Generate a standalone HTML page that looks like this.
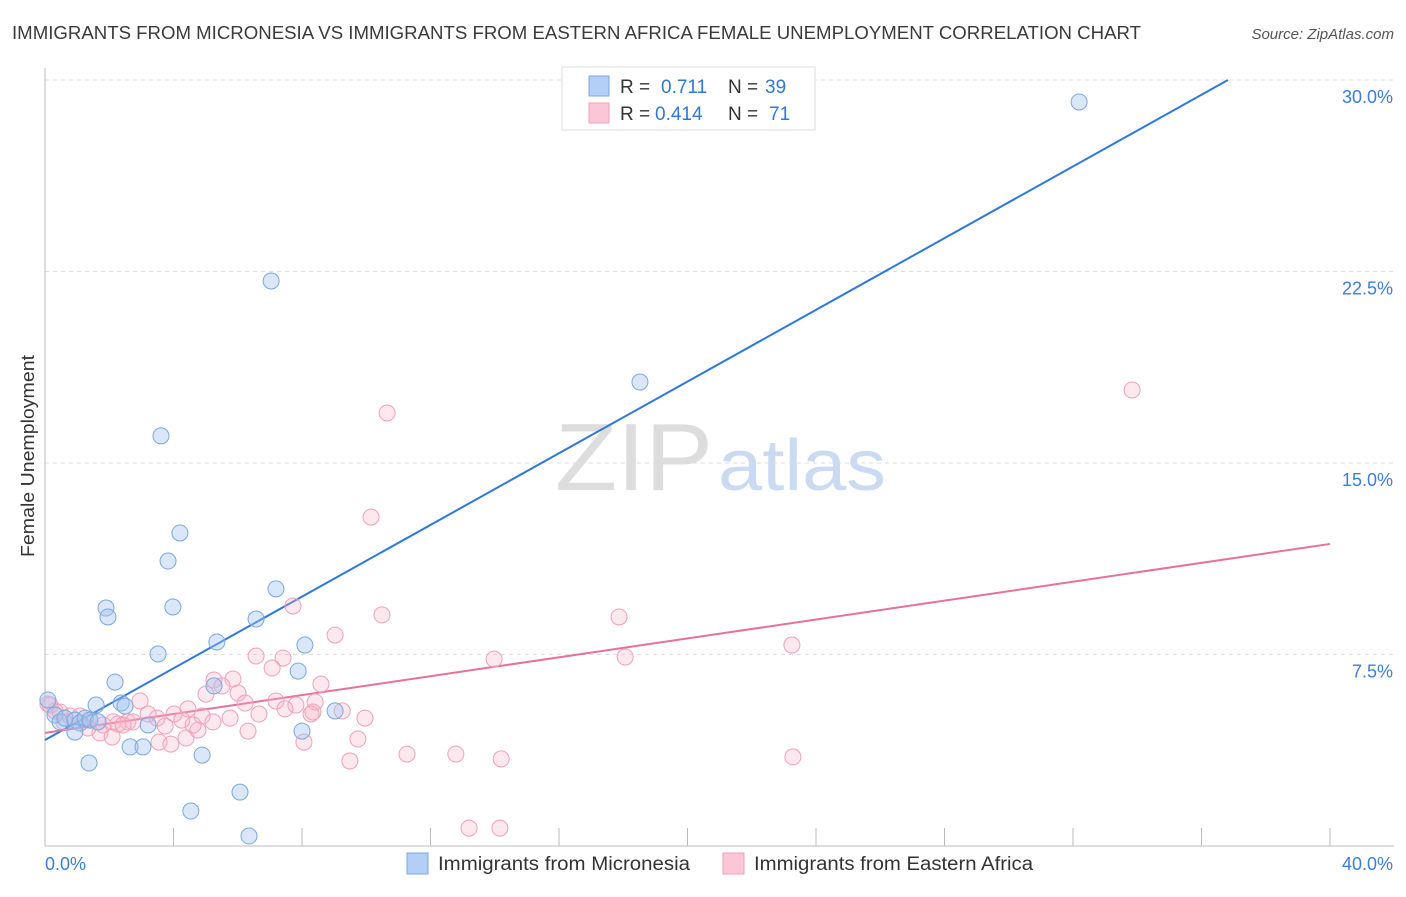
<!DOCTYPE html>
<html><head><meta charset="utf-8"><style>
body{margin:0;background:#fff;font-family:"Liberation Sans",sans-serif;}
svg text{font-family:"Liberation Sans",sans-serif;}
</style></head><body>
<svg id="chart" width="1406" height="892" xmlns="http://www.w3.org/2000/svg">
<text x="12" y="39" font-size="18" fill="#3a3a3a" textLength="1129" lengthAdjust="spacingAndGlyphs">IMMIGRANTS FROM MICRONESIA VS IMMIGRANTS FROM EASTERN AFRICA FEMALE UNEMPLOYMENT CORRELATION CHART</text>
<text x="1394" y="39" font-size="15" fill="#555" text-anchor="end" font-style="italic">Source: ZipAtlas.com</text>
<text x="555" y="490" font-size="96" fill="#ddd" font-family="Liberation Serif" textLength="158" lengthAdjust="spacingAndGlyphs">ZIP</text>
<text x="718" y="490" font-size="72" fill="#c9daf2" textLength="168" lengthAdjust="spacingAndGlyphs">atlas</text>
<g id="grid"></g><g id="axes"></g><g id="lines"></g><g id="pts"></g>
<text transform="translate(34,456) rotate(-90)" font-size="18" fill="#333" text-anchor="middle" textLength="202" lengthAdjust="spacingAndGlyphs">Female Unemployment</text>
<g>
<rect x="562" y="67" width="253" height="63" fill="#fff" stroke="#ddd"/>
<rect x="589" y="76" width="20" height="20" fill="#b3cff5" stroke="#7aa8e0"/>
<rect x="589" y="103" width="20" height="20" fill="#fbc6d6" stroke="#f0a0bb"/>
<text x="620" y="93" font-size="19" fill="#333">R = </text><text x="661" y="93" font-size="19" fill="#2f78d8">0.711</text>
<text x="728" y="93" font-size="19" fill="#333">N = </text><text x="765" y="93" font-size="19" fill="#2f78d8">39</text>
<text x="620" y="120" font-size="19" fill="#333">R = </text><text x="655" y="120" font-size="19" fill="#2f78d8">0.414</text>
<text x="728" y="120" font-size="19" fill="#333">N = </text><text x="769" y="120" font-size="19" fill="#2f78d8">71</text>
</g>
<g><rect x="407" y="853" width="21" height="21" fill="#b3cff5" stroke="#7aa8e0"/><text x="438" y="870" font-size="19" fill="#333" textLength="252" lengthAdjust="spacingAndGlyphs">Immigrants from Micronesia</text></g>
<g><rect x="723" y="853" width="21" height="21" fill="#fbc6d6" stroke="#f0a0bb"/><text x="754" y="870" font-size="19" fill="#333" textLength="279" lengthAdjust="spacingAndGlyphs">Immigrants from Eastern Africa</text></g>
</svg>
<script>
const blueX=[32.19,7.04,18.52,3.61,4.20,3.83,7.19,1.90,1.96,3.98,6.57,5.35,8.09,3.52,7.88,2.18,5.26,1.59,2.37,2.49,9.03,0.09,0.31,0.47,0.62,0.93,1.09,1.25,1.40,1.65,0.93,3.21,8.00,2.65,3.05,1.37,4.89,4.54,6.07,6.35];
const blueY=[29.14,22.13,18.17,16.06,12.26,11.16,10.07,9.32,8.97,9.36,8.89,7.99,7.87,7.52,6.85,6.42,6.27,5.52,5.60,5.48,5.29,5.72,5.13,4.86,5.01,4.93,4.82,5.01,4.93,4.86,4.46,4.74,4.50,3.88,3.88,3.25,3.56,1.37,2.11,0.39];
const pinkX=[33.84,10.65,10.15,7.72,10.49,17.87,9.03,13.98,18.06,23.25,6.57,7.41,7.07,5.26,5.85,5.51,5.01,6.01,8.59,2.96,4.45,6.23,7.19,7.81,8.41,6.66,5.76,4.89,4.02,3.21,3.49,4.26,2.58,2.12,2.27,1.81,2.74,1.40,0.78,0.31,0.09,0.47,1.71,2.09,3.55,3.92,4.39,4.76,6.32,8.06,9.74,8.34,9.25,9.96,11.27,12.79,14.20,9.49,23.28,13.20,14.16,1.09,0.59,2.43,3.74,4.61,7.47,8.28,5.23,1.34,0.16];
const pinkY=[17.86,16.96,12.88,9.40,9.05,8.97,8.26,7.32,7.40,7.87,7.44,7.36,6.97,6.50,6.54,6.27,5.95,5.99,6.34,5.68,5.37,5.60,5.68,5.52,5.64,5.17,5.01,5.09,5.17,5.17,5.01,4.93,4.86,4.86,4.78,4.74,4.86,4.93,5.09,5.29,5.56,5.25,4.43,4.27,4.07,3.99,4.23,4.54,4.50,4.07,4.19,5.25,5.29,5.01,3.60,3.60,3.41,3.33,3.49,0.70,0.70,5.09,4.86,4.74,4.70,4.74,5.37,5.17,4.86,4.62,5.52];
const blueFit=[4.15,0.702];
const pinkFit=[4.43,0.185];
const yTicks=[7.5,15,22.5,30];
const xTicks=[0,4,8,12,16,20,24,28,32,36,40];
const NS='http://www.w3.org/2000/svg';
const sx=v=>45+v/40*1285, sy=v=>846-v/7.5*191.5;
function mk(p,t,a){const e=document.createElementNS(NS,t);for(const k in a)e.setAttribute(k,a[k]);document.getElementById(p).appendChild(e);return e;}
yTicks.forEach(t=>{
 const g=mk('grid','line',{x1:45,x2:1394,y1:sy(t),y2:sy(t),stroke:'#ddd','stroke-dasharray':'4,4'});
 
 
 const l=mk('axes','text',{x:1393,y:sy(t)+23,'font-size':18,fill:'#3b7ddd','text-anchor':'end'});
 l.textContent=(t.toFixed(1))+'%';
 
 
});
const ax=mk('axes','line',{x1:45,x2:1394,y1:846,y2:846,stroke:'#bbb'});


const ay=mk('axes','line',{x1:45,x2:45,y1:68,y2:846,stroke:'#bbb'});


xTicks.forEach(t=>{
 const k=mk('axes','line',{x1:sx(t),x2:sx(t),y1:828,y2:846,stroke:'#bbb'});
 
 
});
[[0,'start','0.0%'],[40,'end','40.0%']].forEach(d=>{
 const l=mk('axes','text',{x:d[0]===0?45:1393,y:870,'font-size':18,fill:'#3b7ddd','text-anchor':d[1]});
 l.textContent=d[2];
 
 
});
function pts(X,Y,fill,stroke,name){X.forEach((x,i)=>{
 const c=mk('pts','circle',{cx:sx(x),cy:sy(Y[i]),r:8,fill:fill,stroke:stroke,'stroke-width':1});
 
 
});}
pts(pinkX,pinkY,'rgba(248,180,200,0.3)','#f0a0bb','eastern-africa-point');
pts(blueX,blueY,'rgba(160,196,240,0.4)','#7aa8e0','micronesia-point');
const bEnd=(30-blueFit[0])/blueFit[1];
const bl=mk('lines','line',{x1:sx(0),y1:sy(blueFit[0]),x2:sx(bEnd),y2:sy(30),stroke:'#2f78d8','stroke-width':2});


const pl=mk('lines','line',{x1:sx(0),y1:sy(pinkFit[0]),x2:sx(40),y2:sy(pinkFit[0]+pinkFit[1]*40),stroke:'#e8709a','stroke-width':2});


</script>
</body></html>
